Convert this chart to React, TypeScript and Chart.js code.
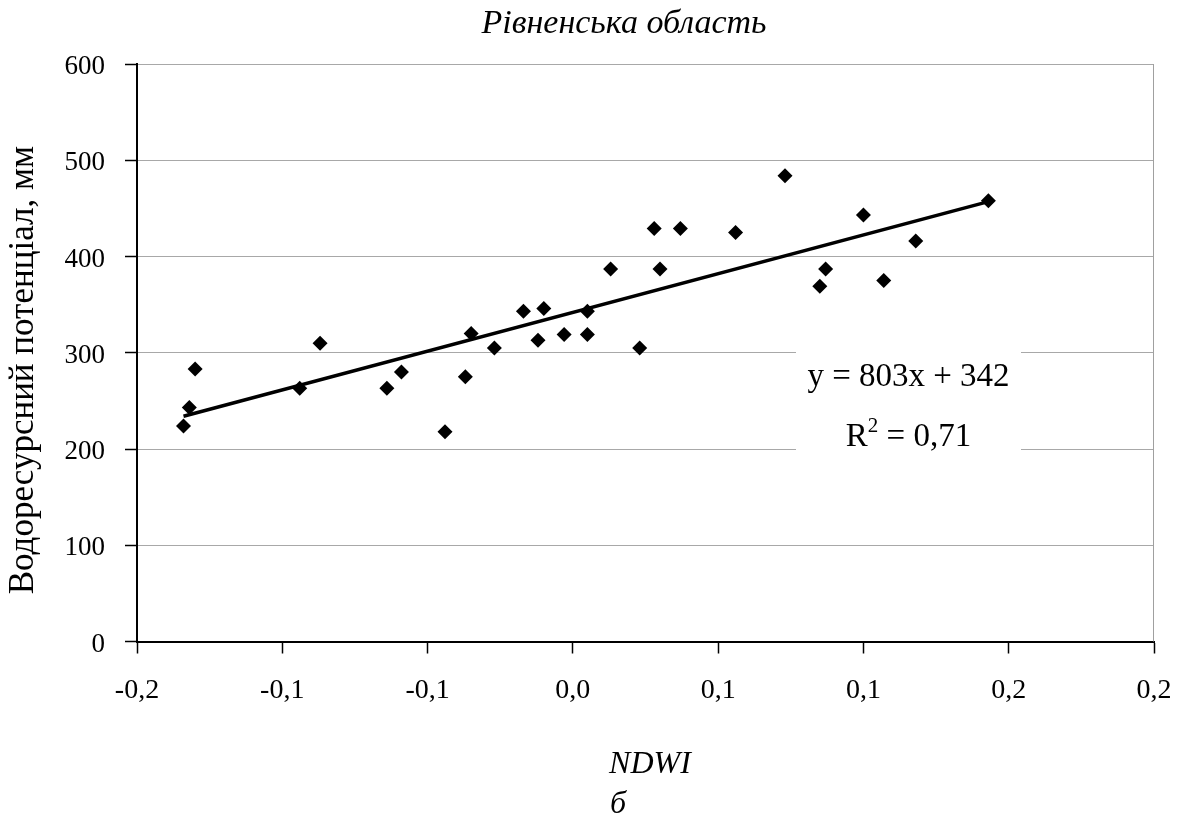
import React, { useEffect, useRef } from 'react';
import { Chart, registerables } from 'chart.js';

Chart.register(...registerables);

// ---- Data ----
const NDWI_VALUES = [
  -0.134, -0.132, -0.130, -0.094, -0.087, -0.064, -0.059, -0.044, -0.037, -0.035,
  -0.027, -0.017, -0.010, -0.012, -0.003, 0.005, 0.005, 0.013, 0.023, 0.028,
  0.030, 0.037, 0.056, 0.073, 0.085, 0.087, 0.100, 0.107, 0.118, 0.143,
];
const WATER_POTENTIAL = [
  224, 243, 283, 263, 310, 263, 280, 218, 275, 320,
  305, 343, 346, 313, 319, 319, 343, 387, 305, 429,
  387, 429, 425, 484, 369, 387, 443, 375, 416, 458,
];
const TREND_X = [-0.134, 0.143];
const TREND_Y = [234, 457];

const X_TICK_LABELS = ['-0,2', '-0,1', '-0,1', '0,0', '0,1', '0,1', '0,2', '0,2'];
const X_MIN = -0.15;
const X_MAX = 0.2;
const X_STEP = 0.05;
const Y_MIN = 0;
const Y_MAX = 600;
const Y_STEP = 100;

const TITLE = 'Рівненська область';
const Y_TITLE = 'Водоресурсний потенціал, мм';
const X_TITLE = 'NDWI';
const SUB_LABEL = 'б';
const EQUATION = 'y = 803x + 342';
const R2_VALUE = ' = 0,71';

const FONT = '"Liberation Serif", "Times New Roman", serif';

const decorPlugin = {
  id: 'decor',
  beforeDatasetsDraw(chart: any) {
    const { ctx, chartArea } = chart;
    ctx.save();
    // right border of plot area
    ctx.strokeStyle = '#a0a0a0';
    ctx.lineWidth = 1;
    ctx.beginPath();
    ctx.moveTo(chartArea.right - 0.5, chartArea.top);
    ctx.lineTo(chartArea.right - 0.5, chartArea.bottom);
    ctx.stroke();

    // equation label box
    const cx = 908.5;
    const cy = 402;
    const bw = 225;
    const bh = 104;
    ctx.fillStyle = '#ffffff';
    ctx.fillRect(cx - bw / 2, cy - bh / 2, bw, bh);

    ctx.fillStyle = '#000';
    ctx.textBaseline = 'alphabetic';
    ctx.textAlign = 'center';
    ctx.font = `33px ${FONT}`;
    ctx.fillText(EQUATION, cx, cy - 16);

    // R^2 line
    ctx.textAlign = 'left';
    ctx.font = `33px ${FONT}`;
    const wR = ctx.measureText('R').width;
    const wRest = ctx.measureText(R2_VALUE).width;
    ctx.font = `21px ${FONT}`;
    const w2 = ctx.measureText('2').width;
    const total = wR + w2 + wRest;
    let x = cx - total / 2;
    const base = cy + 44;
    ctx.font = `33px ${FONT}`;
    ctx.fillText('R', x, base);
    x += wR;
    ctx.font = `21px ${FONT}`;
    ctx.fillText('2', x, base - 14);
    x += w2;
    ctx.font = `33px ${FONT}`;
    ctx.fillText(R2_VALUE, x, base);
    ctx.restore();
  },
  afterDraw(chart: any) {
    const { ctx } = chart;
    ctx.save();
    ctx.fillStyle = '#000';
    ctx.textAlign = 'center';
    ctx.textBaseline = 'alphabetic';
    ctx.font = `italic 34px ${FONT}`;
    ctx.fillText(TITLE, 624, 33);

    ctx.font = `italic 32px ${FONT}`;
    ctx.fillText(X_TITLE, 650, 773);
    ctx.fillText(SUB_LABEL, 618, 813);

    ctx.translate(24, 370);
    ctx.rotate(-Math.PI / 2);
    ctx.textBaseline = 'middle';
    ctx.font = `35px ${FONT}`;
    ctx.fillText(Y_TITLE, 0, 0);
    ctx.restore();
  },
};

export default function App() {
  const canvasRef = useRef<HTMLCanvasElement | null>(null);

  useEffect(() => {
    if (!canvasRef.current) return;
    Chart.defaults.font.family = FONT;
    Chart.defaults.color = '#000';
    const chart = new Chart(canvasRef.current, {
      type: 'scatter',
      data: {
        datasets: [
          {
            label: 'points',
            data: NDWI_VALUES.map((v, i) => ({ x: v, y: WATER_POTENTIAL[i] })),
            pointStyle: 'rectRot',
            pointRadius: 7.5,
            pointBackgroundColor: '#000',
            pointBorderColor: '#000',
            pointBorderWidth: 0,
            showLine: false,
          },
          {
            label: 'trend',
            data: TREND_X.map((v, i) => ({ x: v, y: TREND_Y[i] })),
            showLine: true,
            borderColor: '#000',
            borderWidth: 3.5,
            pointRadius: 0,
            fill: false,
          },
        ],
      },
      options: {
        responsive: false,
        animation: false,
        events: [],
        layout: { padding: { top: 64, right: 26, bottom: 0, left: 0 } },
        plugins: {
          legend: { display: false },
          title: { display: false },
          tooltip: { enabled: false },
        },
        scales: {
          x: {
            type: 'linear',
            min: X_MIN,
            max: X_MAX,
            afterFit: (scale: any) => {
              scale.height = 176.5;
              scale.paddingLeft = 0;
              scale.paddingRight = 0;
            },
            ticks: {
              stepSize: X_STEP,
              font: { size: 28, family: FONT },
              color: '#000',
              padding: 20,
              maxRotation: 0,
              autoSkip: false,
              callback: (_v: any, i: number) => X_TICK_LABELS[i],
            },
            grid: {
              drawOnChartArea: false,
              drawTicks: true,
              tickLength: 12,
              tickColor: '#000',
              tickWidth: 1.5,
            },
            border: { color: '#000', width: 2 },
          },
          y: {
            type: 'linear',
            min: Y_MIN,
            max: Y_MAX,
            afterFit: (scale: any) => {
              scale.width = 137;
              scale.paddingTop = 0;
              scale.paddingBottom = 0;
            },
            ticks: {
              stepSize: Y_STEP,
              font: { size: 27, family: FONT },
              color: '#000',
              padding: 20,
              labelOffset: 3,
            },
            grid: {
              color: '#a8a8a8',
              lineWidth: 1,
              tickLength: 12,
              tickColor: '#000',
              tickWidth: 1.5,
            },
            border: { color: '#000', width: 2 },
          },
        },
      },
      plugins: [decorPlugin],
    });
    return () => chart.destroy();
  }, []);

  return (
    <div style={{ position: 'absolute', left: 0, top: 0, width: 1180, height: 818, background: '#fff' }}>
      <canvas ref={canvasRef} width={1180} height={818} style={{ display: 'block' }} />
    </div>
  );
}
